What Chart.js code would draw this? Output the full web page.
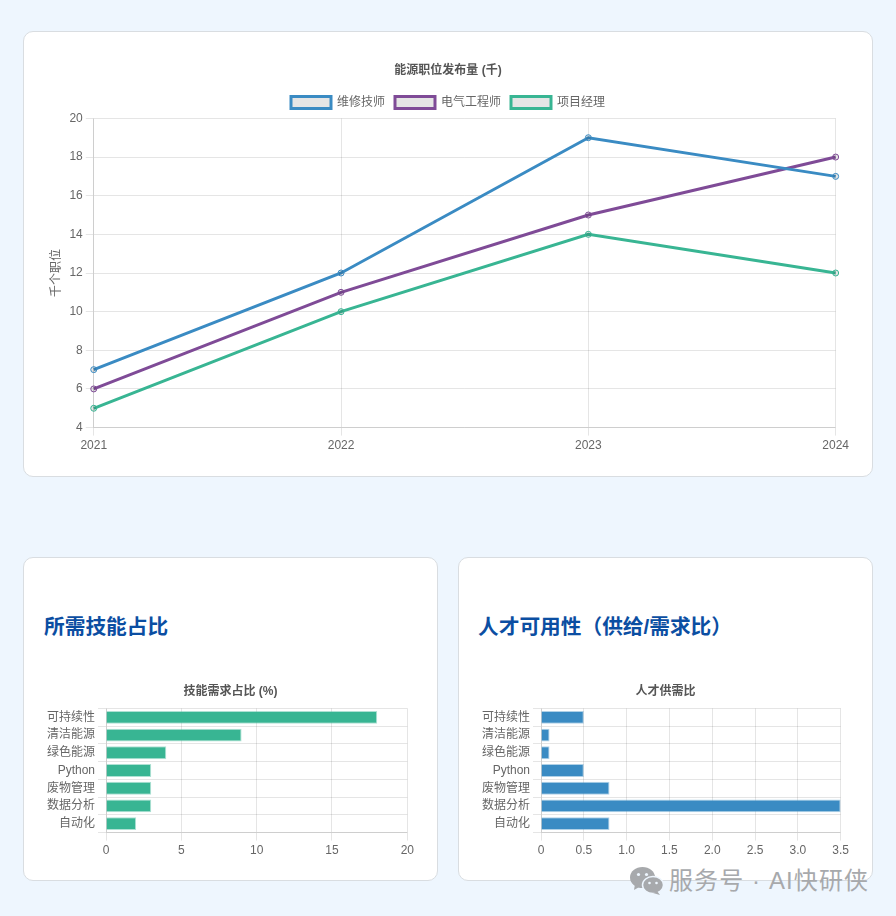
<!DOCTYPE html>
<html lang="zh">
<head>
<meta charset="utf-8">
<title>能源职位</title>
<script src="https://cdn.jsdelivr.net/npm/chart.js@4"></script>
<style>
    html, body { margin: 0; padding: 0; }
    body { width: 896px; height: 916px; background: #eef6fe; position: relative; overflow: hidden;
           font-family: "Liberation Sans", "Noto Sans CJK SC", sans-serif; }
    .card { position: absolute; box-sizing: border-box; background: #fff; border: 1px solid #d9dde1; border-radius: 10px; }
    h2 { position: absolute; margin: 0; color: #0b4ea2; font-size: 20.7px; line-height: 28px; font-weight: bold; }
    canvas { position: absolute; }
    .mark { position: absolute; left: 630px; top: 865px; color: #a7a9ac; font-size: 24px; line-height: 32px; white-space: nowrap; }
    .mark svg { position: absolute; left: 0; top: 2px; }
    .mark span { position: absolute; left: 39px; top: 0; letter-spacing: 1.1px; }
</style>
</head>
<body>
<div class="card" style="left:23px;top:31px;width:850px;height:446px"></div>
<div class="card" style="left:23px;top:557px;width:415px;height:324px"></div>
<div class="card" style="left:458px;top:557px;width:415px;height:324px"></div>
<h2 style="left:44px;top:613px">所需技能占比</h2>
<h2 style="left:478px;top:613px">人才可用性（供给/需求比）</h2>
<canvas id="jobsChart" width="808" height="404" style="left:44px;top:52px"></canvas>
<canvas id="skillsChart" width="373" height="187" style="left:44px;top:674px"></canvas>
<canvas id="talentChart" width="373" height="187" style="left:479px;top:674px"></canvas>
<div class="mark">
    <svg width="34" height="28" viewBox="0 0 34 28">
        <ellipse cx="12.5" cy="10.5" rx="12.5" ry="10.5" fill="#a7a9ac"/>
        <path d="M5 17 L4 23 L11 19 Z" fill="#a7a9ac"/>
        <circle cx="8.5" cy="7.5" r="1.6" fill="#eef6fe"/>
        <circle cx="16.5" cy="7.5" r="1.6" fill="#eef6fe"/>
        <ellipse cx="23" cy="18" rx="10.5" ry="8.5" fill="#a7a9ac" stroke="#eef6fe" stroke-width="1.5"/>
        <path d="M27 24 L30 28 L23 26 Z" fill="#a7a9ac"/>
        <circle cx="19.5" cy="16" r="1.3" fill="#eef6fe"/>
        <circle cx="26.5" cy="16" r="1.3" fill="#eef6fe"/>
    </svg>
    <span>服务号 · AI快研侠</span>
</div>
<script>
    const years = ['2021', '2022', '2023', '2024'];
    const technicians = [7, 12, 19, 17];
    const engineers = [6, 11, 15, 18];
    const managers = [5, 10, 14, 12];

    const skills = ['可持续性', '清洁能源', '绿色能源', 'Python', '废物管理', '数据分析', '自动化'];
    const skillShare = [18, 9, 4, 3, 3, 3, 2];
    const talentRatio = [0.5, 0.1, 0.1, 0.5, 0.8, 3.5, 0.8];

    const BLUE = '#3a8bc3';
    const PURPLE = '#7f4b97';
    const GREEN = '#38b593';
    const PALE = 'rgba(0, 0, 0, 0.1)';

    Chart.defaults.font.family = '"Liberation Sans", "Noto Sans CJK SC", sans-serif';
    Chart.defaults.font.size = 12;
    Chart.defaults.color = '#666';
    Chart.defaults.animation = false;

    function lineSet(label, values, color) {
        return {
            label: label,
            data: values,
            borderColor: color,
            backgroundColor: PALE,
            pointBackgroundColor: PALE,
            pointBorderColor: color,
            pointBorderWidth: 1,
            pointRadius: 3,
            borderWidth: 3,
            tension: 0
        };
    }

    new Chart(document.getElementById('jobsChart'), {
        type: 'line',
        data: {
            labels: years,
            datasets: [
                lineSet('维修技师', technicians, BLUE),
                lineSet('电气工程师', engineers, PURPLE),
                lineSet('项目经理', managers, GREEN)
            ]
        },
        options: {
            responsive: false,
            plugins: {
                title: { display: true, text: '能源职位发布量 (千)', color: '#555', font: { size: 12, weight: 'bold' }, padding: { top: 11, bottom: 9 } }
            },
            scales: {
                y: {
                    min: 4,
                    max: 20,
                    ticks: { stepSize: 2 },
                    title: { display: true, text: '千个职位', padding: { top: 5, bottom: 3 } }
                }
            }
        }
    });

    function barChart(id, title, values, color, xMax, step) {
        new Chart(document.getElementById(id), {
            type: 'bar',
            data: {
                labels: skills,
                datasets: [{ data: values, backgroundColor: color, borderColor: color + '66', borderWidth: 1 }]
            },
            options: {
                indexAxis: 'y',
                responsive: false,
                plugins: {
                    legend: { display: false },
                    title: { display: true, text: title, color: '#555', font: { size: 12, weight: 'bold' } }
                },
                scales: {
                    x: { min: 0, max: xMax, ticks: { stepSize: step } },
                    y: { ticks: { autoSkip: false } }
                }
            }
        });
    }

    barChart('skillsChart', '技能需求占比 (%)', skillShare, GREEN, 20, 5);
    barChart('talentChart', '人才供需比', talentRatio, BLUE, 3.5, 0.5);
</script>
</body>
</html>
